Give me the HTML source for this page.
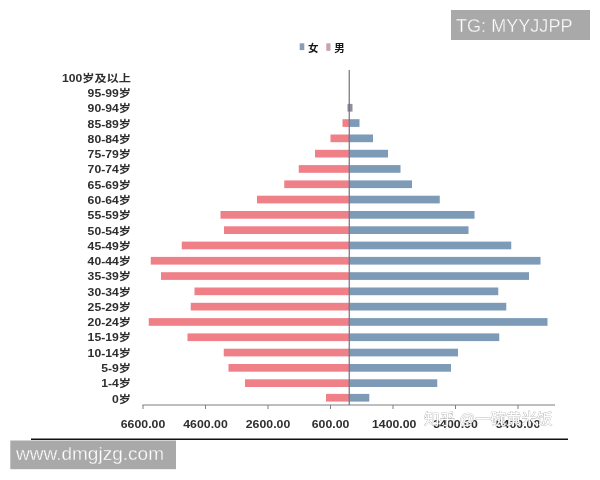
<!DOCTYPE html>
<html lang="zh"><head><meta charset="utf-8"><title>chart</title>
<style>
html,body{margin:0;padding:0;background:#fff;}
body{width:600px;height:480px;overflow:hidden;}
svg{display:block;}
.lab{font-family:"Liberation Sans","Noto Sans CJK SC",sans-serif;font-weight:bold;font-size:10.7px;fill:#2e2e2e;}
.wm{font-family:"Liberation Sans","Noto Sans CJK SC",sans-serif;font-size:14.5px;}
.tag{font-family:"Liberation Sans",sans-serif;font-size:18px;fill:#fff;}
</style></head><body>
<svg width="600" height="480" viewBox="0 0 600 480">
<rect width="600" height="480" fill="#fff"/>
<defs><filter id="soft" x="-2%" y="-2%" width="104%" height="104%"><feGaussianBlur stdDeviation="0.35"/></filter></defs>
<g id="chart" filter="url(#soft)">
<rect x="347.5" y="103.90" width="5.0" height="7.7" fill="#8f8f9c"/>
<rect x="342.5" y="119.20" width="6.75" height="7.7" fill="#ef8088"/>
<rect x="349.25" y="119.20" width="10.25" height="7.7" fill="#7d9ab6"/>
<rect x="330.5" y="134.50" width="18.75" height="7.7" fill="#ef8088"/>
<rect x="349.25" y="134.50" width="23.75" height="7.7" fill="#7d9ab6"/>
<rect x="315" y="149.80" width="34.25" height="7.7" fill="#ef8088"/>
<rect x="349.25" y="149.80" width="38.75" height="7.7" fill="#7d9ab6"/>
<rect x="298.75" y="165.10" width="50.50" height="7.7" fill="#ef8088"/>
<rect x="349.25" y="165.10" width="51.25" height="7.7" fill="#7d9ab6"/>
<rect x="284.25" y="180.40" width="65.00" height="7.7" fill="#ef8088"/>
<rect x="349.25" y="180.40" width="62.75" height="7.7" fill="#7d9ab6"/>
<rect x="257" y="195.70" width="92.25" height="7.7" fill="#ef8088"/>
<rect x="349.25" y="195.70" width="90.50" height="7.7" fill="#7d9ab6"/>
<rect x="220.5" y="211.00" width="128.75" height="7.7" fill="#ef8088"/>
<rect x="349.25" y="211.00" width="125.25" height="7.7" fill="#7d9ab6"/>
<rect x="224" y="226.30" width="125.25" height="7.7" fill="#ef8088"/>
<rect x="349.25" y="226.30" width="119.25" height="7.7" fill="#7d9ab6"/>
<rect x="181.75" y="241.60" width="167.50" height="7.7" fill="#ef8088"/>
<rect x="349.25" y="241.60" width="162.00" height="7.7" fill="#7d9ab6"/>
<rect x="150.75" y="256.90" width="198.50" height="7.7" fill="#ef8088"/>
<rect x="349.25" y="256.90" width="191.25" height="7.7" fill="#7d9ab6"/>
<rect x="161" y="272.20" width="188.25" height="7.7" fill="#ef8088"/>
<rect x="349.25" y="272.20" width="179.75" height="7.7" fill="#7d9ab6"/>
<rect x="194.5" y="287.50" width="154.75" height="7.7" fill="#ef8088"/>
<rect x="349.25" y="287.50" width="149.00" height="7.7" fill="#7d9ab6"/>
<rect x="190.75" y="302.80" width="158.50" height="7.7" fill="#ef8088"/>
<rect x="349.25" y="302.80" width="157.00" height="7.7" fill="#7d9ab6"/>
<rect x="148.75" y="318.10" width="200.50" height="7.7" fill="#ef8088"/>
<rect x="349.25" y="318.10" width="198.25" height="7.7" fill="#7d9ab6"/>
<rect x="187.5" y="333.40" width="161.75" height="7.7" fill="#ef8088"/>
<rect x="349.25" y="333.40" width="150.00" height="7.7" fill="#7d9ab6"/>
<rect x="223.75" y="348.70" width="125.50" height="7.7" fill="#ef8088"/>
<rect x="349.25" y="348.70" width="108.75" height="7.7" fill="#7d9ab6"/>
<rect x="228.5" y="364.00" width="120.75" height="7.7" fill="#ef8088"/>
<rect x="349.25" y="364.00" width="101.75" height="7.7" fill="#7d9ab6"/>
<rect x="245" y="379.30" width="104.25" height="7.7" fill="#ef8088"/>
<rect x="349.25" y="379.30" width="88.00" height="7.7" fill="#7d9ab6"/>
<rect x="326" y="393.90" width="23.25" height="7.7" fill="#ef8088"/>
<rect x="349.25" y="393.90" width="20.05" height="7.7" fill="#7d9ab6"/>
<line x1="349.25" y1="70" x2="349.25" y2="405" stroke="#746e7c" stroke-width="1.2"/>
<line x1="142.5" y1="405" x2="555" y2="405" stroke="#7e7e7e" stroke-width="1"/>
<line x1="143" y1="405" x2="143" y2="409" stroke="#7e7e7e" stroke-width="1"/>
<line x1="205.5" y1="405" x2="205.5" y2="409" stroke="#7e7e7e" stroke-width="1"/>
<line x1="268" y1="405" x2="268" y2="409" stroke="#7e7e7e" stroke-width="1"/>
<line x1="330.5" y1="405" x2="330.5" y2="409" stroke="#7e7e7e" stroke-width="1"/>
<line x1="393" y1="405" x2="393" y2="409" stroke="#7e7e7e" stroke-width="1"/>
<line x1="455.5" y1="405" x2="455.5" y2="409" stroke="#7e7e7e" stroke-width="1"/>
<line x1="518" y1="405" x2="518" y2="409" stroke="#7e7e7e" stroke-width="1"/>
<text class="lab" text-anchor="end" transform="translate(131,81.70) scale(1.14,1)">100岁及以上</text>
<text class="lab" text-anchor="end" transform="translate(131,96.98) scale(1.14,1)">95-99岁</text>
<text class="lab" text-anchor="end" transform="translate(131,112.26) scale(1.14,1)">90-94岁</text>
<text class="lab" text-anchor="end" transform="translate(131,127.54) scale(1.14,1)">85-89岁</text>
<text class="lab" text-anchor="end" transform="translate(131,142.82) scale(1.14,1)">80-84岁</text>
<text class="lab" text-anchor="end" transform="translate(131,158.10) scale(1.14,1)">75-79岁</text>
<text class="lab" text-anchor="end" transform="translate(131,173.38) scale(1.14,1)">70-74岁</text>
<text class="lab" text-anchor="end" transform="translate(131,188.66) scale(1.14,1)">65-69岁</text>
<text class="lab" text-anchor="end" transform="translate(131,203.94) scale(1.14,1)">60-64岁</text>
<text class="lab" text-anchor="end" transform="translate(131,219.22) scale(1.14,1)">55-59岁</text>
<text class="lab" text-anchor="end" transform="translate(131,234.50) scale(1.14,1)">50-54岁</text>
<text class="lab" text-anchor="end" transform="translate(131,249.78) scale(1.14,1)">45-49岁</text>
<text class="lab" text-anchor="end" transform="translate(131,265.06) scale(1.14,1)">40-44岁</text>
<text class="lab" text-anchor="end" transform="translate(131,280.34) scale(1.14,1)">35-39岁</text>
<text class="lab" text-anchor="end" transform="translate(131,295.62) scale(1.14,1)">30-34岁</text>
<text class="lab" text-anchor="end" transform="translate(131,310.90) scale(1.14,1)">25-29岁</text>
<text class="lab" text-anchor="end" transform="translate(131,326.18) scale(1.14,1)">20-24岁</text>
<text class="lab" text-anchor="end" transform="translate(131,341.46) scale(1.14,1)">15-19岁</text>
<text class="lab" text-anchor="end" transform="translate(131,356.74) scale(1.14,1)">10-14岁</text>
<text class="lab" text-anchor="end" transform="translate(131,372.02) scale(1.14,1)">5-9岁</text>
<text class="lab" text-anchor="end" transform="translate(131,387.30) scale(1.14,1)">1-4岁</text>
<text class="lab" text-anchor="end" transform="translate(131,402.58) scale(1.14,1)">0岁</text>
<text class="lab" text-anchor="middle" transform="translate(143,428.1) scale(1.15,1)">6600.00</text>
<text class="lab" text-anchor="middle" transform="translate(205.5,428.1) scale(1.15,1)">4600.00</text>
<text class="lab" text-anchor="middle" transform="translate(268,428.1) scale(1.15,1)">2600.00</text>
<text class="lab" text-anchor="middle" transform="translate(330.5,428.1) scale(1.15,1)">600.00</text>
<text class="lab" text-anchor="middle" transform="translate(394.2,428.1) scale(1.15,1)">1400.00</text>
<text class="lab" text-anchor="middle" transform="translate(455.5,428.1) scale(1.15,1)">3400.00</text>
<text class="lab" text-anchor="middle" transform="translate(518,428.1) scale(1.15,1)">5400.00</text>
<rect x="299.7" y="43.3" width="4.6" height="6.8" fill="#8b9db2"/>
<text class="lab" transform="translate(308,51.6) scale(1,1)" style="font-size:10.5px;fill:#151515">女</text>
<rect x="326.3" y="43.3" width="4.2" height="7.5" fill="#c9a3ab"/>
<text class="lab" transform="translate(334.3,51.6) scale(1,1)" style="font-size:10.5px;fill:#151515">男</text>
<text class="wm" x="424" y="424" textLength="128.5" lengthAdjust="spacingAndGlyphs" fill="#fff" stroke="#a6a6a6" stroke-width="0.6" paint-order="stroke">知乎 @一碗黄米饭</text>
</g>
<rect x="31" y="438.5" width="537" height="1.5" fill="#111"/>
<rect x="451" y="10" width="139" height="30" fill="#a9a9a9"/>
<text class="tag" x="456" y="32" textLength="116.5" lengthAdjust="spacingAndGlyphs" stroke="#a9a9a9" stroke-width="0.35">TG: MYYJJPP</text>
<rect x="10.3" y="440.5" width="165.7" height="28.7" fill="#a9a9a9"/>
<text class="tag" x="16" y="459.6" textLength="148" lengthAdjust="spacingAndGlyphs" stroke="#a9a9a9" stroke-width="0.3">www.dmgjzg.com</text>
</svg></body></html>
